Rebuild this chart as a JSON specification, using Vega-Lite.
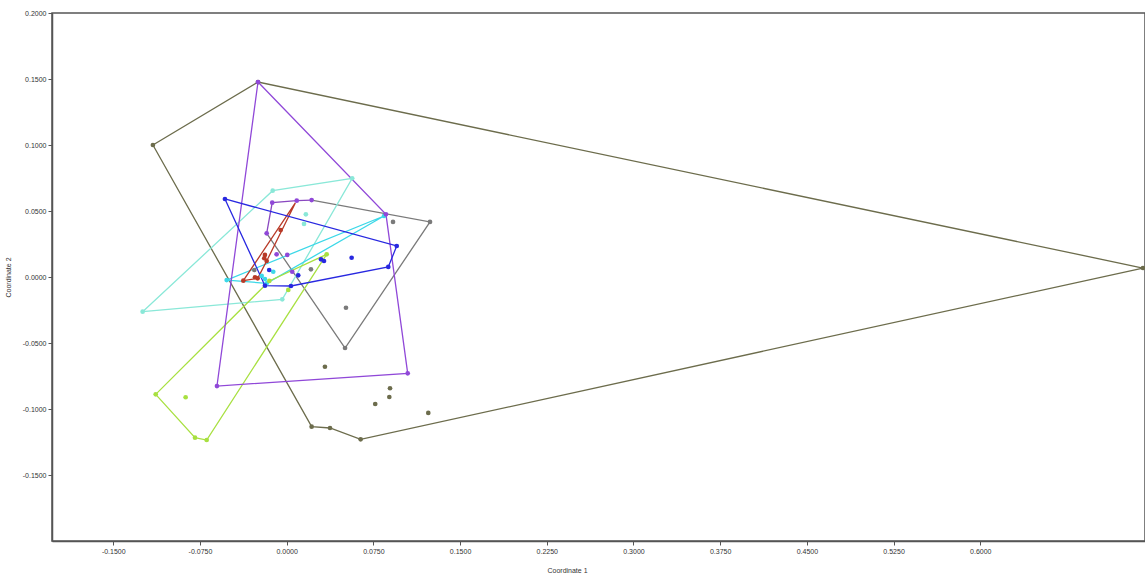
{
  "$schema": "https://vega.github.io/schema/vega-lite/v6.json",
  "width": 1093,
  "height": 528,
  "autosize": {"type": "none"},
  "padding": {"left": 52, "top": 13, "right": 0, "bottom": 36},
  "background": "white",
  "config": {
    "view": {"stroke": "#555555", "strokeWidth": 1.5},
    "font": "Liberation Sans",
    "axis": {
      "grid": false,
      "domainColor": "#555555",
      "domainWidth": 1.5,
      "tickColor": "#555555",
      "tickSize": 4,
      "labelFontSize": 7,
      "labelColor": "#333333",
      "titleFontSize": 7,
      "titleFontWeight": "normal",
      "titleColor": "#333333"
    }
  },
  "datasets": {
    "pts": [
      {"g": "olive", "x": -0.1157, "y": 0.1000},
      {"g": "olive", "x": -0.0248, "y": 0.1477},
      {"g": "olive", "x": 0.7407, "y": 0.0068},
      {"g": "olive", "x": 0.0640, "y": -0.1230},
      {"g": "olive", "x": 0.0216, "y": -0.1134},
      {"g": "olive", "x": 0.0375, "y": -0.1144},
      {"g": "olive", "x": 0.0331, "y": -0.0680},
      {"g": "olive", "x": 0.0766, "y": -0.0962},
      {"g": "olive", "x": 0.0894, "y": -0.0843},
      {"g": "olive", "x": 0.0888, "y": -0.0909},
      {"g": "olive", "x": 0.1225, "y": -0.1030},
      {"g": "gray", "x": 0.0920, "y": 0.0417},
      {"g": "gray", "x": 0.1240, "y": 0.0417},
      {"g": "gray", "x": 0.0210, "y": 0.0058},
      {"g": "gray", "x": 0.0513, "y": -0.0233},
      {"g": "gray", "x": 0.0505, "y": -0.0538},
      {"g": "gray", "x": -0.0280, "y": 0.0053},
      {"g": "aqua", "x": -0.1246, "y": -0.0263},
      {"g": "aqua", "x": -0.0121, "y": 0.0654},
      {"g": "aqua", "x": 0.0567, "y": 0.0748},
      {"g": "aqua", "x": -0.0038, "y": -0.0169},
      {"g": "aqua", "x": 0.0166, "y": 0.0475},
      {"g": "aqua", "x": 0.0150, "y": 0.0402},
      {"g": "cyan", "x": -0.0519, "y": -0.0023},
      {"g": "cyan", "x": 0.0842, "y": 0.0462},
      {"g": "cyan", "x": -0.0188, "y": -0.0015},
      {"g": "cyan", "x": -0.0116, "y": 0.0040},
      {"g": "cyan", "x": -0.0173, "y": -0.0048},
      {"g": "cyan", "x": -0.0216, "y": 0.0008},
      {"g": "green", "x": -0.1133, "y": -0.0889},
      {"g": "green", "x": -0.0874, "y": -0.0911},
      {"g": "green", "x": -0.0793, "y": -0.1217},
      {"g": "green", "x": -0.0692, "y": -0.1235},
      {"g": "green", "x": 0.0346, "y": 0.0172},
      {"g": "green", "x": 0.0014, "y": -0.0098},
      {"g": "green", "x": -0.0150, "y": -0.0030},
      {"g": "red", "x": -0.0052, "y": 0.0356},
      {"g": "red", "x": -0.0188, "y": 0.0167},
      {"g": "red", "x": -0.0194, "y": 0.0142},
      {"g": "red", "x": -0.0173, "y": 0.0121},
      {"g": "red", "x": -0.0274, "y": -0.0002},
      {"g": "red", "x": -0.0251, "y": -0.0010},
      {"g": "red", "x": -0.0375, "y": -0.0028},
      {"g": "purple", "x": -0.0248, "y": 0.1477},
      {"g": "purple", "x": 0.0859, "y": 0.0475},
      {"g": "purple", "x": 0.1047, "y": -0.0730},
      {"g": "purple", "x": -0.0603, "y": -0.0826},
      {"g": "purple", "x": -0.0125, "y": 0.0563},
      {"g": "purple", "x": 0.0087, "y": 0.0578},
      {"g": "purple", "x": 0.0216, "y": 0.0583},
      {"g": "purple", "x": -0.0173, "y": 0.0331},
      {"g": "purple", "x": -0.0087, "y": 0.0172},
      {"g": "purple", "x": 0.0005, "y": 0.0167},
      {"g": "purple", "x": 0.0048, "y": 0.0040},
      {"g": "blue", "x": -0.0534, "y": 0.0591},
      {"g": "blue", "x": 0.0952, "y": 0.0235},
      {"g": "blue", "x": 0.0879, "y": 0.0076},
      {"g": "blue", "x": 0.0037, "y": -0.0068},
      {"g": "blue", "x": -0.0188, "y": -0.0066},
      {"g": "blue", "x": 0.0100, "y": 0.0013},
      {"g": "blue", "x": 0.0297, "y": 0.0134},
      {"g": "blue", "x": 0.0323, "y": 0.0121},
      {"g": "blue", "x": 0.0562, "y": 0.0146},
      {"g": "blue", "x": -0.0151, "y": 0.0053}
    ],
    "hulls": [
      {"g": "olive", "o": 1, "x": -0.1157, "y": 0.1000},
      {"g": "olive", "o": 2, "x": -0.0248, "y": 0.1477},
      {"g": "olive", "o": 3, "x": 0.7407, "y": 0.0068},
      {"g": "olive", "o": 4, "x": 0.0640, "y": -0.1230},
      {"g": "olive", "o": 5, "x": 0.0375, "y": -0.1144},
      {"g": "olive", "o": 6, "x": 0.0216, "y": -0.1134},
      {"g": "olive", "o": 7, "x": -0.1157, "y": 0.1000},
      {"g": "gray", "o": 1, "x": 0.0216, "y": 0.0583},
      {"g": "gray", "o": 2, "x": 0.1240, "y": 0.0417},
      {"g": "gray", "o": 3, "x": 0.0505, "y": -0.0538},
      {"g": "gray", "o": 4, "x": -0.0173, "y": 0.0331},
      {"g": "aqua", "o": 1, "x": -0.1246, "y": -0.0263},
      {"g": "aqua", "o": 2, "x": -0.0121, "y": 0.0654},
      {"g": "aqua", "o": 3, "x": 0.0567, "y": 0.0748},
      {"g": "aqua", "o": 4, "x": -0.0038, "y": -0.0169},
      {"g": "aqua", "o": 5, "x": -0.1246, "y": -0.0263},
      {"g": "cyan", "o": 1, "x": -0.0519, "y": -0.0023},
      {"g": "cyan", "o": 2, "x": 0.0842, "y": 0.0462},
      {"g": "cyan", "o": 3, "x": -0.0173, "y": -0.0048},
      {"g": "cyan", "o": 4, "x": -0.0519, "y": -0.0023},
      {"g": "green", "o": 1, "x": -0.1133, "y": -0.0889},
      {"g": "green", "o": 2, "x": -0.0793, "y": -0.1217},
      {"g": "green", "o": 3, "x": -0.0692, "y": -0.1235},
      {"g": "green", "o": 4, "x": 0.0346, "y": 0.0172},
      {"g": "green", "o": 5, "x": -0.0150, "y": -0.0030},
      {"g": "green", "o": 6, "x": -0.1133, "y": -0.0889},
      {"g": "red", "o": 1, "x": 0.0075, "y": 0.0561},
      {"g": "red", "o": 2, "x": -0.0173, "y": 0.0121},
      {"g": "red", "o": 3, "x": -0.0251, "y": -0.0010},
      {"g": "red", "o": 4, "x": -0.0375, "y": -0.0028},
      {"g": "red", "o": 5, "x": 0.0075, "y": 0.0561},
      {"g": "purple", "o": 1, "x": -0.0248, "y": 0.1477},
      {"g": "purple", "o": 2, "x": 0.0859, "y": 0.0475},
      {"g": "purple", "o": 3, "x": 0.1047, "y": -0.0730},
      {"g": "purple", "o": 4, "x": -0.0603, "y": -0.0826},
      {"g": "purple", "o": 5, "x": -0.0248, "y": 0.1477},
      {"g": "violet", "o": 1, "x": -0.0173, "y": 0.0331},
      {"g": "violet", "o": 2, "x": -0.0125, "y": 0.0563},
      {"g": "violet", "o": 3, "x": 0.0087, "y": 0.0578},
      {"g": "violet", "o": 4, "x": 0.0216, "y": 0.0583},
      {"g": "blue", "o": 1, "x": -0.0534, "y": 0.0591},
      {"g": "blue", "o": 2, "x": 0.0952, "y": 0.0235},
      {"g": "blue", "o": 3, "x": 0.0879, "y": 0.0076},
      {"g": "blue", "o": 4, "x": 0.0037, "y": -0.0068},
      {"g": "blue", "o": 5, "x": -0.0188, "y": -0.0066},
      {"g": "blue", "o": 6, "x": -0.0534, "y": 0.0591}
    ]
  },
  "layer": [
    {
      "data": {"name": "hulls"},
      "mark": {"type": "line", "strokeWidth": 1.3, "clip": true},
      "encoding": {
        "x": {"field": "x", "type": "quantitative"},
        "y": {"field": "y", "type": "quantitative"},
        "order": {"field": "o", "type": "quantitative"},
        "detail": {"field": "g"},
        "color": {"field": "g", "type": "nominal", "legend": null,
          "scale": {
            "domain": ["olive", "gray", "aqua", "cyan", "green", "red", "purple", "violet", "blue"],
            "range": ["#6c6c4c", "#7a7a7a", "#8ae8d8", "#3cd8e8", "#a8e040", "#b83a28", "#9048d8", "#8a48c0", "#2828e0"]
          }
        }
      }
    },
    {
      "data": {"name": "pts"},
      "mark": {"type": "point", "filled": true, "size": 22, "opacity": 1, "clip": true},
      "encoding": {
        "x": {"field": "x", "type": "quantitative",
          "scale": {"domain": [-0.203, 0.7425], "nice": false, "zero": false},
          "axis": {
            "values": [-0.15, -0.075, 0, 0.075, 0.15, 0.225, 0.3, 0.375, 0.45, 0.525, 0.6],
            "labelExpr": "replace(format(datum.value, '.4f'), '\u2212', '-')",
            "title": "Coordinate 1",
            "titleX": 515, "titleY": 29, "titleBaseline": "middle"
          }
        },
        "y": {"field": "y", "type": "quantitative",
          "scale": {"domain": [-0.2, 0.2], "nice": false, "zero": false},
          "axis": {
            "values": [-0.15, -0.1, -0.05, 0, 0.05, 0.1, 0.15, 0.2],
            "labelExpr": "replace(format(datum.value, '.4f'), '\u2212', '-')",
            "title": "Coordinate 2",
            "titleX": -44, "titleY": 264, "titleBaseline": "middle", "titleAngle": -90
          }
        },
        "color": {"field": "g", "type": "nominal", "legend": null,
          "scale": {
            "domain": ["olive", "gray", "aqua", "cyan", "green", "red", "purple", "violet", "blue"],
            "range": ["#4c4c30", "#6a6a6a", "#7ee0cc", "#28d0f0", "#98e020", "#a82818", "#8040c8", "#8a48c0", "#1010e0"]
          }
        }
      }
    }
  ]
}
